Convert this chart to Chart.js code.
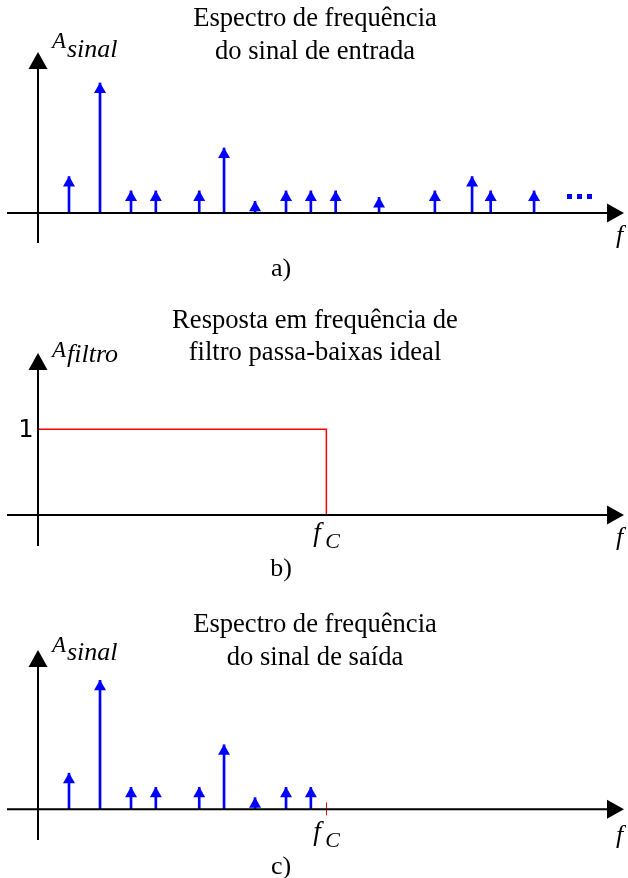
<!DOCTYPE html>
<html>
<head>
<meta charset="utf-8">
<title>Filtro passa-baixas ideal</title>
<script src="https://cdn.jsdelivr.net/npm/chart.js@4.4.1/dist/chart.umd.min.js"></script>
<style>
  html, body { margin: 0; padding: 0; background: #ffffff; }
  #sheet { position: relative; width: 628px; height: 878px; overflow: hidden; background: #ffffff; }
  canvas { position: absolute; left: 0; display: block; }
</style>
</head>
<body>
<div id="sheet">
  <canvas id="chartA" width="628" height="290" style="top:0px"></canvas>
  <canvas id="chartB" width="628" height="300" style="top:290px"></canvas>
  <canvas id="chartC" width="628" height="288" style="top:590px"></canvas>
</div>
<script>
// ---- data ----
// harmonic frequencies of the input signal (arbitrary units) and their amplitudes
const harmonicFreqs = [1, 2, 3, 3.8, 5.2, 6, 7, 8, 8.8, 9.6, 11, 12.8, 14, 14.6, 16];
const inputAmps     = [0.28, 1.0, 0.17, 0.17, 0.17, 0.5, 0.09, 0.17, 0.17, 0.17, 0.12, 0.17, 0.28, 0.17, 0.17];
// ideal low-pass filter
const cutoffFreq   = 9.3;
const passbandGain = 1;
const gainTickLabels = ['1'];
// texts
const titleA = ['Espectro de frequência', 'do sinal de entrada'];
const titleB = ['Resposta em frequência de', 'filtro passa-baixas ideal'];
const titleC = ['Espectro de frequência', 'do sinal de saída'];
const panelTags = ['a)', 'b)', 'c)'];

// output spectrum = input spectrum times the ideal filter response
const outPoints = harmonicFreqs
  .map((f, i) => ({ x: f, y: inputAmps[i] * (f < cutoffFreq ? passbandGain : 0) }))
  .filter(p => p.y > 0);
const inPoints = harmonicFreqs.map((f, i) => ({ x: f, y: inputAmps[i] }));
const filterPoints = [
  { x: 0, y: passbandGain },
  { x: cutoffFreq, y: passbandGain },
  { x: cutoffFreq, y: 0 }
];

const SERIF = '"Liberation Serif", "Times New Roman", serif';
const BLUE = '#0000ff';
const RED = '#ff0000';

// draws the arrowed axes, stem heads, labels and titles of each panel
const sketchPlugin = {
  id: 'sketch',
  beforeDatasetsDraw(chart, args, o) {
    const { ctx, scales: { x, y } } = chart;
    if (o.cutoffTick) {
      const xc = Math.round(x.getPixelForValue(cutoffFreq)) + 0.5;
      const y0 = y.getPixelForValue(0);
      ctx.save();
      ctx.strokeStyle = RED;
      ctx.lineWidth = 1;
      ctx.beginPath();
      ctx.moveTo(xc, y0 - 7);
      ctx.lineTo(xc, y0 + 6);
      ctx.stroke();
      ctx.restore();
    }
  },
  afterDatasetsDraw(chart, args, o) {
    const { ctx, chartArea: ca, scales: { x, y } } = chart;
    const x0 = x.getPixelForValue(0);
    const y0 = y.getPixelForValue(0);
    ctx.save();
    ctx.strokeStyle = '#000';
    ctx.fillStyle = '#000';
    ctx.lineWidth = 2;
    // frequency axis
    ctx.beginPath();
    ctx.moveTo(ca.left, y0);
    ctx.lineTo(ca.right - 10, y0);
    ctx.stroke();
    ctx.beginPath();
    ctx.moveTo(ca.right, y0);
    ctx.lineTo(ca.right - 17, y0 - 9.5);
    ctx.lineTo(ca.right - 17, y0 + 9.5);
    ctx.closePath();
    ctx.fill();
    // amplitude axis
    ctx.beginPath();
    ctx.moveTo(x0, ca.bottom);
    ctx.lineTo(x0, ca.top + 10);
    ctx.stroke();
    ctx.beginPath();
    ctx.moveTo(x0, ca.top);
    ctx.lineTo(x0 - 9.5, ca.top + 17);
    ctx.lineTo(x0 + 9.5, ca.top + 17);
    ctx.closePath();
    ctx.fill();

    // arrow heads on top of every spectral line
    ctx.fillStyle = BLUE;
    chart.data.datasets.forEach((ds, i) => {
      const meta = chart.getDatasetMeta(i);
      if (meta.type !== 'bar') return;
      meta.data.forEach(el => {
        ctx.beginPath();
        ctx.moveTo(el.x, el.y - 0.5);
        ctx.lineTo(el.x - 6, el.y + 10);
        ctx.lineTo(el.x + 6, el.y + 10);
        ctx.closePath();
        ctx.fill();
      });
    });

    // "..." continuation marks
    if (o.ellipsis) {
      for (let k = 0; k < 3; k++) {
        ctx.fillRect(ca.right - 57 + k * 10, y0 - 19, 5, 5);
      }
    }
    ctx.restore();
  },
  afterDraw(chart, args, o) {
    const { ctx, scales: { x, y } } = chart;
    const x0 = x.getPixelForValue(0);
    ctx.save();
    ctx.fillStyle = '#000';
    ctx.textBaseline = 'alphabetic';

    // title
    ctx.font = '26.6px ' + SERIF;
    ctx.textAlign = 'center';
    o.title.forEach((line, i) => ctx.fillText(line, 315, o.titleBase[i]));

    // panel tag
    ctx.font = '26px ' + SERIF;
    ctx.fillText(o.tag, 281, o.tagBase);

    // amplitude axis label A_sub
    ctx.textAlign = 'left';
    ctx.font = 'italic 23px ' + SERIF;
    ctx.fillText('A', x0 + 14, o.aBase);
    ctx.font = 'italic 26px ' + SERIF;
    ctx.fillText(o.aSub, x0 + 29, o.aSubBase);

    // frequency axis label
    ctx.fillText('f', 616, o.fBase);

    // cutoff label f_C
    if (o.cutoffLabel) {
      const xc = x.getPixelForValue(cutoffFreq);
      ctx.font = 'italic 27px ' + SERIF;
      ctx.fillText('f', xc - 13, o.fcBase);
      ctx.font = 'italic 22px ' + SERIF;
      ctx.fillText('C', xc - 1, o.fcBase + 7);
    }

    // gain tick label
    if (o.gainTick) {
      ctx.font = '25px "DejaVu Sans Mono", monospace';
      ctx.textAlign = 'right';
      ctx.textBaseline = 'middle';
      ctx.fillText(gainTickLabels[0], x0 - 5, y.getPixelForValue(passbandGain) + 1);
    }
    ctx.restore();
  }
};

function baseOptions(pad, yMin, yMax, sketch) {
  return {
    responsive: false,
    animation: false,
    events: [],
    layout: { padding: pad },
    scales: {
      x: { type: 'linear', min: -1, max: 18.9, offset: false, display: false },
      y: { type: 'linear', min: yMin, max: yMax, display: false }
    },
    plugins: {
      legend: { display: false },
      tooltip: { enabled: false },
      sketch: sketch
    }
  };
}

function stemDataset(points) {
  return {
    type: 'bar',
    data: points,
    backgroundColor: BLUE,
    borderWidth: 0,
    barThickness: 2
  };
}

// a) input spectrum
new Chart(document.getElementById('chartA'), {
  type: 'bar',
  data: { datasets: [stemDataset(inPoints)] },
  options: baseOptions({ left: 7, right: 4, top: 52, bottom: 47 }, -30 / 130, 161 / 130, {
    title: titleA, titleBase: [26, 59], tag: panelTags[0], tagBase: 276,
    aSub: 'sinal', aBase: 48, aSubBase: 57, fBase: 243, ellipsis: true
  }),
  plugins: [sketchPlugin]
});

// b) ideal low-pass response
new Chart(document.getElementById('chartB'), {
  type: 'line',
  data: {
    datasets: [{
      data: filterPoints,
      borderColor: RED,
      borderWidth: 1.5,
      pointRadius: 0,
      tension: 0,
      fill: false
    }]
  },
  options: baseOptions({ left: 7, right: 4, top: 63, bottom: 44 }, -31 / 85.7, 162 / 85.7, {
    title: titleB, titleBase: [38, 70], tag: panelTags[1], tagBase: 286,
    aSub: 'filtro', aBase: 67, aSubBase: 72, fBase: 255,
    cutoffLabel: true, fcBase: 251, gainTick: true
  }),
  plugins: [sketchPlugin]
});

// c) output spectrum
new Chart(document.getElementById('chartC'), {
  type: 'bar',
  data: { datasets: [stemDataset(outPoints)] },
  options: baseOptions({ left: 7, right: 4, top: 60, bottom: 38 }, -30.7 / 129, 159.3 / 129, {
    title: titleC, titleBase: [42, 75], tag: panelTags[2], tagBase: 284,
    aSub: 'sinal', aBase: 62, aSubBase: 70, fBase: 253,
    cutoffLabel: true, fcBase: 250, cutoffTick: true
  }),
  plugins: [sketchPlugin]
});
</script>
</body>
</html>
